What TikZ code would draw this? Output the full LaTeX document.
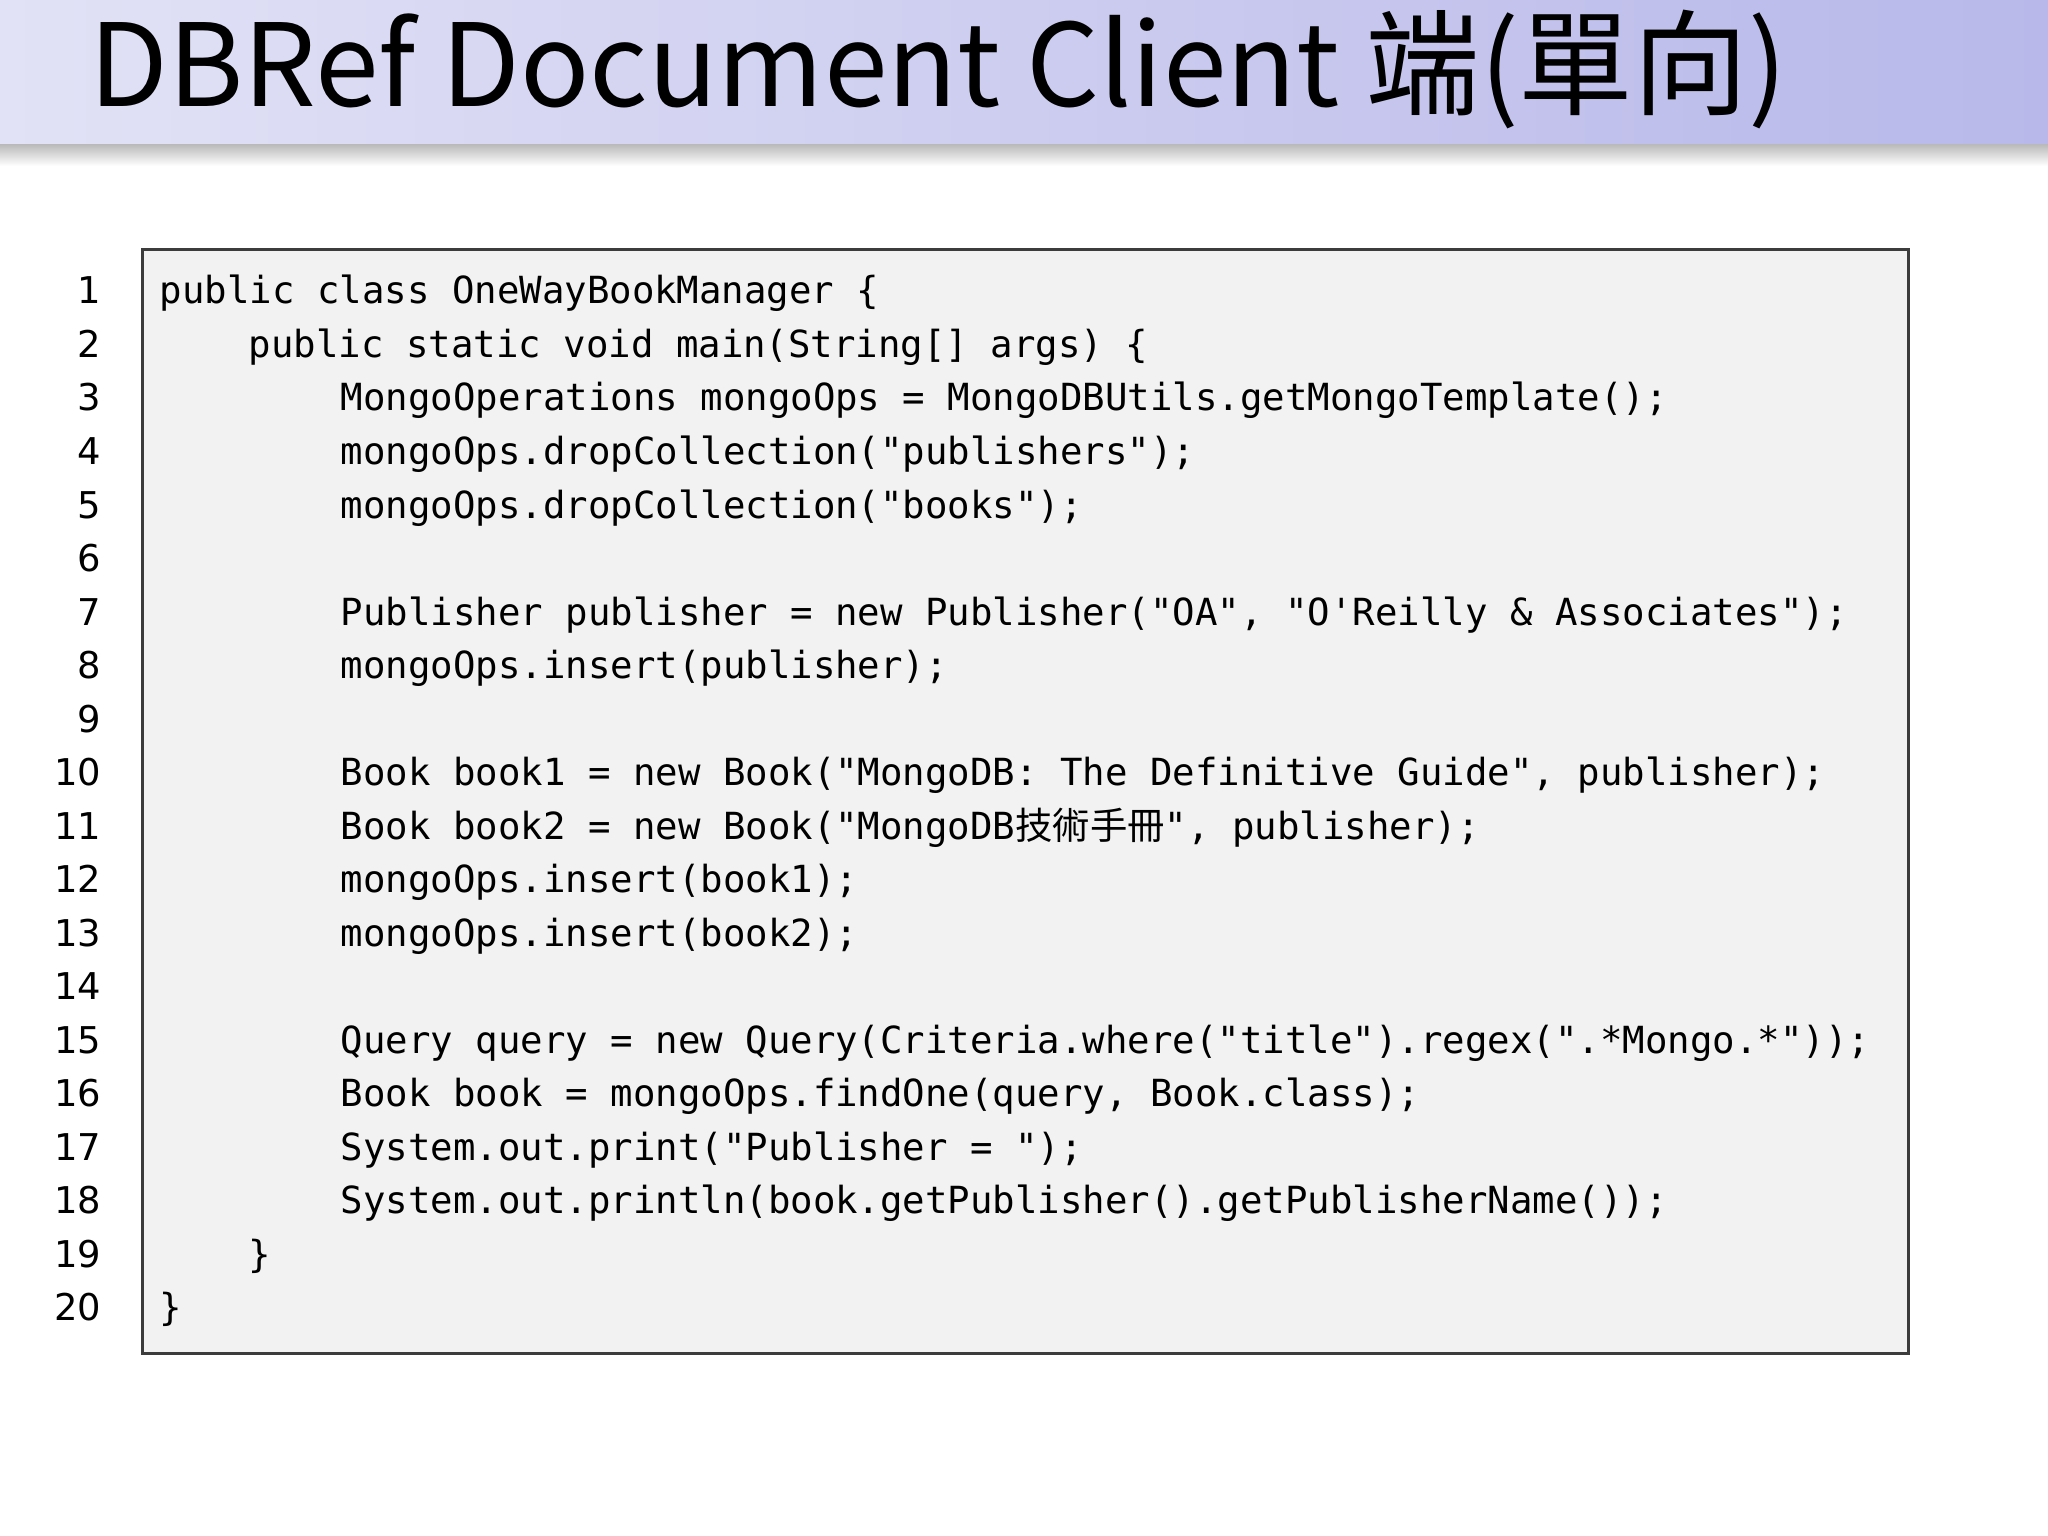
\documentclass[tikz,border=0pt]{standalone}
\usepackage{fontspec}
\setmonofont{DejaVu Sans Mono}
\newfontfamily\cjk{Noto Sans CJK TC}
\newfontfamily\numfont{DejaVu Sans}
\begin{document}
\begin{tikzpicture}[x=1cm,y=1cm,
  code/.style={anchor=base west,inner sep=0pt,font=\ttfamily\fontsize{10.63pt}{12pt}\selectfont},
  num/.style={anchor=base east,inner sep=0pt,font=\numfont\fontsize{10.5pt}{12pt}\selectfont}]
\useasboundingbox (0,0) rectangle (20.48,-15.36);
\fill[white] (0,0) rectangle (20.48,-15.36);
\shade[top color=gray!55,bottom color=white] (0,-1.44) rectangle (20.48,-1.66);
\shade[left color={rgb,255:red,226;green,226;blue,246},right color={rgb,255:red,184;green,184;blue,234}] (0,0) rectangle (20.48,-1.44);
\node[anchor=base west,inner sep=0pt,font=\cjk\fontsize{32.6pt}{34pt}\selectfont] (title) at (0.89,-1.07) {DBRef Document Client 端(單向)};
\node[draw={rgb,255:red,60;green,60;blue,60},line width=0.8pt,fill={rgb,255:red,242;green,242;blue,242},minimum width=17.66cm,minimum height=11.04cm,anchor=north west,inner sep=0pt] (box) at (1.41,-2.48) {};
\foreach \k in {1,...,20}{\node[num] (n\k) at (1.02,{-3.04-0.535*(\k-1)}) {\k};}
\def\Y#1{{-3.04-0.535*(#1-1)}}
\node[code] (l1) at (1.59,\Y{1}) {public class OneWayBookManager \{};
\node[code] (l2) at (2.48,\Y{2}) {public static void main(String[] args) \{};
\node[code] (l3) at (3.40,\Y{3}) {MongoOperations mongoOps = MongoDBUtils.getMongoTemplate();};
\node[code] (l4) at (3.40,\Y{4}) {mongoOps.dropCollection("publishers");};
\node[code] (l5) at (3.40,\Y{5}) {mongoOps.dropCollection("books");};
\node[code] (l7) at (3.40,\Y{7}) {Publisher publisher = new Publisher("OA", "O'Reilly \& Associates");};
\node[code] (l8) at (3.40,\Y{8}) {mongoOps.insert(publisher);};
\node[code] (l10) at (3.40,\Y{10}) {Book book1 = new Book("MongoDB: The Definitive Guide", publisher);};
\node[code] (l11) at (3.40,\Y{11}) {Book book2 = new Book("MongoDB{\cjk 技術手冊}", publisher);};
\node[code] (l12) at (3.40,\Y{12}) {mongoOps.insert(book1);};
\node[code] (l13) at (3.40,\Y{13}) {mongoOps.insert(book2);};
\node[code] (l15) at (3.40,\Y{15}) {Query query = new Query(Criteria.where("title").regex(".*Mongo.*"));};
\node[code] (l16) at (3.40,\Y{16}) {Book book = mongoOps.findOne(query, Book.class);};
\node[code] (l17) at (3.40,\Y{17}) {System.out.print("Publisher = ");};
\node[code] (l18) at (3.40,\Y{18}) {System.out.println(book.getPublisher().getPublisherName());};
\node[code] (l19) at (2.48,\Y{19}) {\}};
\node[code] (l20) at (1.59,\Y{20}) {\}};
\end{tikzpicture}
\end{document}
